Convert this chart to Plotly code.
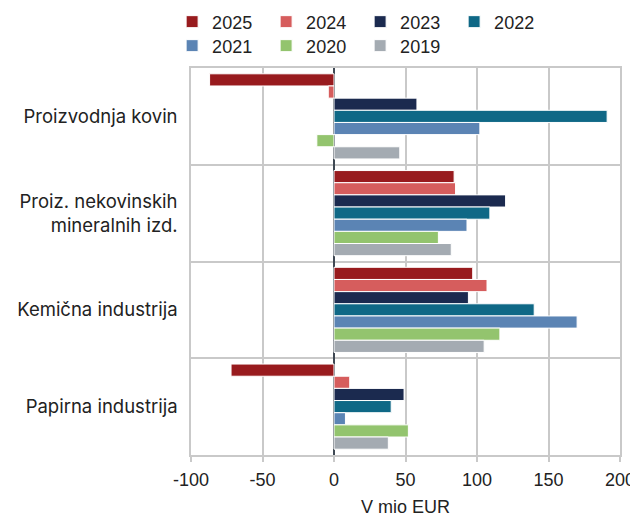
import plotly.graph_objs as go

# categories, top to bottom
categories = ['Proizvodnja kovin', 'Proiz. nekovinskih<br>mineralnih izd.',
              'Kemična industrija', 'Papirna industrija']

years = ['2025', '2024', '2023', '2022', '2021', '2020', '2019']

# values in mio EUR, per year, same order as categories
v2025 = [-87, 84, 97, -72]
v2024 = [-4, 85, 107, 11]
v2023 = [58, 120, 94, 49]
v2022 = [191, 109, 140, 40]
v2021 = [102, 93, 170, 8]
v2020 = [-12, 73, 116, 52]
v2019 = [46, 82, 105, 38]

colors = ['#981b1e', '#d65d5d', '#1b2a4f', '#0f6886', '#5b84b4', '#93c46e', '#a4abb2']

x_ticks = [-100, -50, 0, 50, 100, 150, 200]
x_tick_labels = ['-100', '-50', '0', '50', '100', '150', '200']

values = [v2025, v2024, v2023, v2022, v2021, v2020, v2019]

fig = go.Figure()
for i, (yr, vals, col) in enumerate(zip(years, values, colors)):
    fig.add_trace(go.Bar(
        y=categories, x=vals, name=yr, orientation='h',
        marker=dict(color=col, line=dict(color='white', width=1)),
        legend='legend' if i < 4 else 'legend2',
    ))

txt_font = 'Liberation Sans, Arial, sans-serif'
legend_style = dict(
    orientation='h', xanchor='left', yanchor='middle',
    font=dict(family=txt_font, size=18, color='#222'),
    entrywidth=49, itemwidth=30, bgcolor='rgba(0,0,0,0)',
)

# page body has an 8px margin, so the figure is a bit smaller than the window
fig.update_layout(
    width=630, height=509,
    margin=dict(l=183, r=18, t=60, b=62, autoexpand=False),
    barmode='group', bargap=0.12, bargroupgap=0,
    plot_bgcolor='white', paper_bgcolor='white',
    legend=dict(x=-0.044, y=1.119, **legend_style),
    legend2=dict(x=-0.044, y=1.057, **legend_style),
    xaxis=dict(
        range=[-100, 200], tickvals=x_ticks, ticktext=x_tick_labels,
        showgrid=True, gridcolor='#c9c9c9', gridwidth=1.5,
        zeroline=True, zerolinecolor='#3f4853', zerolinewidth=1.5,
        showline=True, linecolor='#c9c9c9', linewidth=1.5, mirror=True,
        ticks='outside', ticklen=5, tickcolor='#c9c9c9', tickwidth=1.5,
        ticklabelstandoff=3,
        tickfont=dict(family=txt_font, size=18, color='#222'),
        title=dict(text='V mio EUR', standoff=14,
                   font=dict(family=txt_font, size=18, color='#222')),
    ),
    yaxis=dict(
        autorange='reversed', tickson='boundaries',
        showgrid=True, gridcolor='#c9c9c9', gridwidth=1.5,
        showline=True, linecolor='#c9c9c9', linewidth=1.5, mirror=True,
        ticks='', ticklabelstandoff=8,
        tickfont=dict(family='Inter, Noto Sans, sans-serif', size=18.5, color='#222'),
    ),
    annotations=[dict(
        text='Vir: MFRS, preračuni UMAR', xref='paper', yref='paper',
        x=-0.417, y=-0.1525, xanchor='left', yanchor='top', showarrow=False,
        font=dict(family=txt_font, size=13, color='#222'),
    )],
)

fig.write_html('out.html')
